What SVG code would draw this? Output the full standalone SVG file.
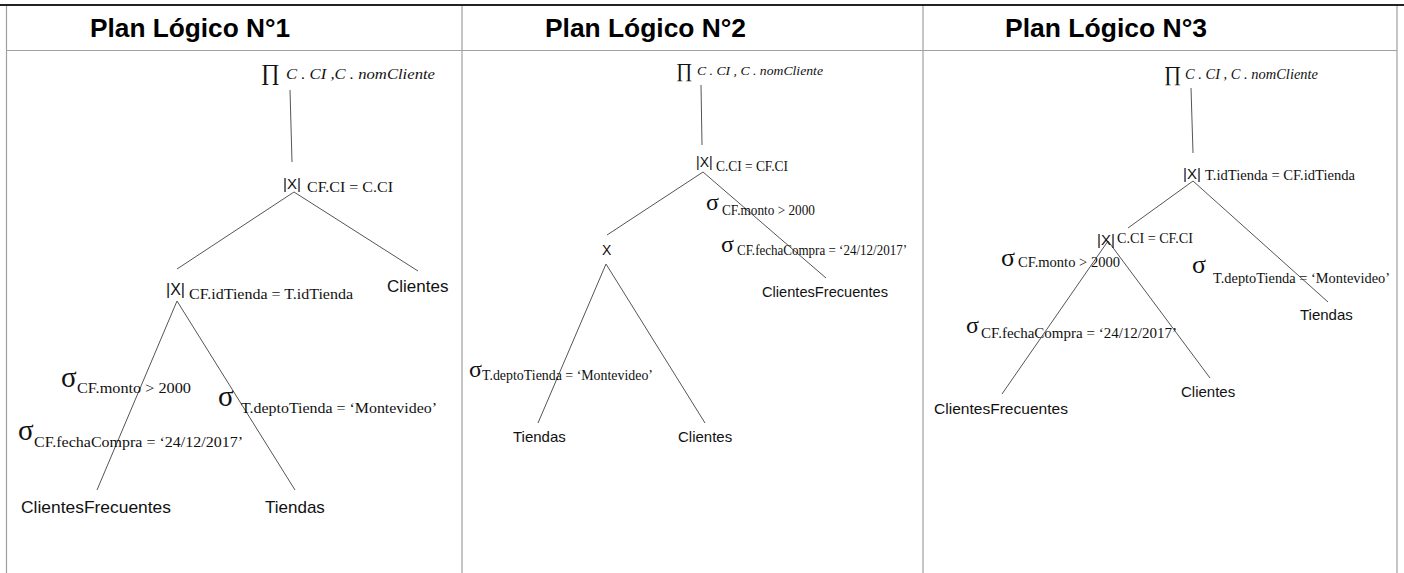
<svg xmlns="http://www.w3.org/2000/svg" width="1404" height="573" viewBox="0 0 1404 573">
<style>
.frame{stroke:#a0a0a0;stroke-width:1.2;fill:none}
.top{stroke:#222;stroke-width:2;fill:none}
.edge{stroke:#555;stroke-width:1;fill:none}
.title{font-family:"Liberation Sans",Arial,sans-serif;font-weight:bold;font-size:25.5px;fill:#000}
.sans{font-family:"Liberation Sans",Arial,sans-serif;fill:#111}
.ser{font-family:"Liberation Serif","Times New Roman",serif;fill:#111}
.it{font-style:italic}
</style>
<rect width="1404" height="573" fill="#fff"/>
<g id="frame">
<line class="top" x1="0" y1="5" x2="1404" y2="5"/>
<line class="frame" x1="6.5" y1="6" x2="6.5" y2="573"/>
<line class="frame" x1="462" y1="6" x2="462" y2="573"/>
<line class="frame" x1="923" y1="6" x2="923" y2="573"/>
<line class="frame" x1="1397" y1="6" x2="1397" y2="573"/>
<line class="frame" x1="6" y1="50.5" x2="1397" y2="50.5"/>
<text class="title" x="90" y="37" textLength="200" lengthAdjust="spacingAndGlyphs">Plan Lógico N°1</text>
<text class="title" x="545" y="37" textLength="201" lengthAdjust="spacingAndGlyphs">Plan Lógico N°2</text>
<text class="title" x="1005" y="37" textLength="202" lengthAdjust="spacingAndGlyphs">Plan Lógico N°3</text>
</g>
<g id="connectors">
<line class="edge" x1="290" y1="90" x2="292" y2="162"/>
<line class="edge" x1="294" y1="192" x2="177" y2="269"/>
<line class="edge" x1="294" y1="192" x2="418" y2="271"/>
<line class="edge" x1="177" y1="301" x2="97" y2="490"/>
<line class="edge" x1="177" y1="301" x2="295" y2="490"/>
<line class="edge" x1="701" y1="85" x2="702" y2="145"/>
<line class="edge" x1="703" y1="172" x2="607" y2="235"/>
<line class="edge" x1="703" y1="172" x2="826" y2="278"/>
<line class="edge" x1="606" y1="264" x2="538" y2="423"/>
<line class="edge" x1="606" y1="264" x2="705" y2="423"/>
<line class="edge" x1="1191" y1="88" x2="1193" y2="153"/>
<line class="edge" x1="1193" y1="181" x2="1128" y2="228"/>
<line class="edge" x1="1193" y1="181" x2="1328" y2="302"/>
<line class="edge" x1="1108" y1="241" x2="1002" y2="394"/>
<line class="edge" x1="1108" y1="241" x2="1210" y2="378"/>
</g>
<!-- Plan 1 -->
<g id="p1-proj">
<text class="ser" x="261" y="80" font-size="23">∏</text>
<text class="ser it" x="286" y="79" font-size="15.5" textLength="149" lengthAdjust="spacingAndGlyphs">C . CI ,C . nomCliente</text>
</g>
<g id="p1-join1">
<text class="sans" x="283" y="189" font-size="15">|X|</text>
<text class="ser" x="307" y="192" font-size="15.5" textLength="86" lengthAdjust="spacingAndGlyphs">CF.CI = C.CI</text>
</g>
<g id="p1-join2">
<text class="sans" x="166" y="295" font-size="16">|X|</text>
<text class="ser" x="189" y="299" font-size="15.5" textLength="164" lengthAdjust="spacingAndGlyphs">CF.idTienda = T.idTienda</text>
</g>
<g id="p1-clientes"><text class="sans" x="387" y="292" font-size="17">Clientes</text></g>
<g id="p1-sel-monto">
<text class="ser" x="61" y="387" font-size="29">σ</text>
<text class="ser" x="77" y="393" font-size="15.5" textLength="114" lengthAdjust="spacingAndGlyphs">CF.monto &gt; 2000</text>
</g>
<g id="p1-sel-depto">
<text class="ser" x="218" y="406" font-size="29">σ</text>
<text class="ser" x="241" y="413" font-size="15.5" textLength="196" lengthAdjust="spacingAndGlyphs">T.deptoTienda = ‘Montevideo’</text>
</g>
<g id="p1-sel-fecha">
<text class="ser" x="18" y="440" font-size="29">σ</text>
<text class="ser" x="34" y="447" font-size="15.5" textLength="209" lengthAdjust="spacingAndGlyphs">CF.fechaCompra = ‘24/12/2017’</text>
</g>
<g id="p1-cf"><text class="sans" x="21" y="513" font-size="17" textLength="150" lengthAdjust="spacingAndGlyphs">ClientesFrecuentes</text></g>
<g id="p1-tiendas"><text class="sans" x="265" y="513" font-size="17">Tiendas</text></g>
<!-- Plan 2 -->
<g id="p2-proj">
<text class="ser" x="676" y="77" font-size="20">∏</text>
<text class="ser it" x="697" y="75" font-size="13.5" textLength="126" lengthAdjust="spacingAndGlyphs">C . CI , C . nomCliente</text>
</g>
<g id="p2-join">
<text class="sans" x="696" y="167" font-size="14">|X|</text>
<text class="ser" x="716" y="171" font-size="14" textLength="72" lengthAdjust="spacingAndGlyphs">C.CI = CF.CI</text>
</g>
<g id="p2-sel-monto">
<text class="ser" x="706" y="210" font-size="24">σ</text>
<text class="ser" x="722" y="215" font-size="14" textLength="93" lengthAdjust="spacingAndGlyphs">CF.monto &gt; 2000</text>
</g>
<g id="p2-sel-fecha">
<text class="ser" x="721" y="252" font-size="24">σ</text>
<text class="ser" x="737" y="255" font-size="14" textLength="170" lengthAdjust="spacingAndGlyphs">CF.fechaCompra = ‘24/12/2017’</text>
</g>
<g id="p2-cf"><text class="sans" x="762" y="297" font-size="15" textLength="126" lengthAdjust="spacingAndGlyphs">ClientesFrecuentes</text></g>
<g id="p2-cross"><text class="sans" x="602" y="255" font-size="14">X</text></g>
<g id="p2-sel-depto">
<text class="ser" x="469" y="377" font-size="24">σ</text>
<text class="ser" x="482" y="380" font-size="14" textLength="171" lengthAdjust="spacingAndGlyphs">T.deptoTienda = ‘Montevideo’</text>
</g>
<g id="p2-tiendas"><text class="sans" x="513" y="442" font-size="15">Tiendas</text></g>
<g id="p2-clientes"><text class="sans" x="678" y="442" font-size="15">Clientes</text></g>
<!-- Plan 3 -->
<g id="p3-proj">
<text class="ser" x="1164" y="81" font-size="21">∏</text>
<text class="ser it" x="1185" y="79" font-size="14" textLength="133" lengthAdjust="spacingAndGlyphs">C . CI , C . nomCliente</text>
</g>
<g id="p3-join1">
<text class="sans" x="1183" y="179" font-size="15">|X|</text>
<text class="ser" x="1205" y="180" font-size="14.5" textLength="150" lengthAdjust="spacingAndGlyphs">T.idTienda = CF.idTienda</text>
</g>
<g id="p3-join2">
<text class="sans" x="1097" y="245" font-size="15">|X|</text>
<text class="ser" x="1117" y="243" font-size="14.5" textLength="76" lengthAdjust="spacingAndGlyphs">C.CI = CF.CI</text>
</g>
<g id="p3-sel-monto">
<text class="ser" x="1001" y="266" font-size="26">σ</text>
<text class="ser" x="1018" y="267" font-size="14.5" textLength="102" lengthAdjust="spacingAndGlyphs">CF.monto &gt; 2000</text>
</g>
<g id="p3-sel-fecha">
<text class="ser" x="966" y="333" font-size="24">σ</text>
<text class="ser" x="981" y="338" font-size="14" textLength="196" lengthAdjust="spacingAndGlyphs">CF.fechaCompra = ‘24/12/2017’</text>
</g>
<g id="p3-sel-depto">
<text class="ser" x="1192" y="273" font-size="26">σ</text>
<text class="ser" x="1213" y="283" font-size="14.5" textLength="177" lengthAdjust="spacingAndGlyphs">T.deptoTienda = ‘Montevideo’</text>
</g>
<g id="p3-tiendas"><text class="sans" x="1300" y="320" font-size="15">Tiendas</text></g>
<g id="p3-clientes"><text class="sans" x="1181" y="397" font-size="15">Clientes</text></g>
<g id="p3-cf"><text class="sans" x="934" y="414" font-size="15" textLength="134" lengthAdjust="spacingAndGlyphs">ClientesFrecuentes</text></g>
</svg>
